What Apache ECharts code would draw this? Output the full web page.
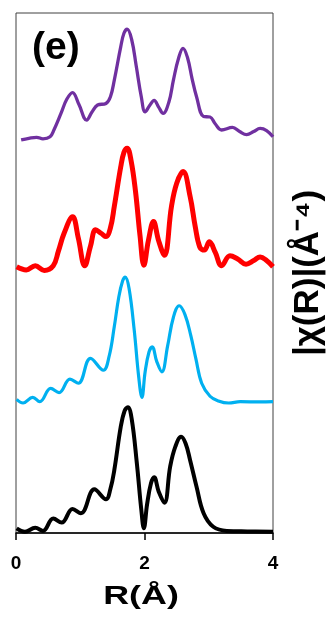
<!DOCTYPE html>
<html><head><meta charset="utf-8">
<script src="https://cdn.jsdelivr.net/npm/echarts@6/dist/echarts.min.js"></script>
<style>html,body{margin:0;padding:0;background:#fff}#c{width:327px;height:624px}</style>
</head><body><div id="c"></div>
<script>
// x tick values
const xTicks = [0, 2, 4];
// vertical offsets used to stack the spectra
const offsetBlack = 0, offsetBlue = 2.5, offsetRed = 5.02, offsetPurple = 7.54;

const blackR = [0.01,0.14,0.30,0.42,0.58,0.71,0.88,1.01,1.22,1.40,1.47,1.53,1.63,1.69,1.74,1.80,1.88,1.95,1.99,2.04,2.10,2.15,2.22,2.31,2.40,2.48,2.57,2.64,2.71,2.81,2.92,3.07,3.28,3.6,4.0];
const blackV = [0.09,0.025,0.10,0.04,0.28,0.20,0.46,0.38,0.84,0.65,0.85,1.21,2.04,2.35,2.42,2.2,1.35,0.45,0.09,0.55,0.95,1.07,0.8,0.58,1.28,1.66,1.85,1.72,1.40,0.89,0.38,0.12,0.04,0.03,0.025];

const blueR = [0.01,0.11,0.26,0.37,0.54,0.67,0.84,0.97,1.16,1.36,1.45,1.53,1.60,1.66,1.70,1.76,1.84,1.91,1.96,2.01,2.07,2.12,2.19,2.27,2.36,2.45,2.54,2.63,2.72,2.80,2.89,3.02,3.15,3.31,3.49,3.8,4.0];
const blueV = [0.07,0.0,0.11,0.025,0.28,0.20,0.46,0.38,0.86,0.63,0.9,1.47,2.04,2.35,2.42,2.2,1.4,0.5,0.11,0.6,0.98,1.08,0.8,0.6,1.1,1.65,1.87,1.7,1.3,0.85,0.38,0.13,0.04,0.0,0.025,0.02,0.025];

const redR = [0.01,0.16,0.30,0.44,0.58,0.66,0.75,0.88,0.97,1.07,1.16,1.24,1.33,1.40,1.47,1.53,1.63,1.68,1.73,1.79,1.86,1.93,1.99,2.06,2.14,2.22,2.31,2.42,2.50,2.60,2.71,2.79,2.86,2.93,3.01,3.10,3.20,3.33,3.45,3.58,3.70,3.80,3.90,4.0];
const redV = [0.10,0.04,0.12,0.03,0.12,0.40,0.75,1.06,0.65,0.12,0.5,0.81,0.74,0.68,0.85,1.26,2.02,2.30,2.38,2.15,1.55,0.7,0.13,0.6,0.97,0.6,0.32,1.26,1.70,1.93,1.45,0.87,0.48,0.42,0.58,0.38,0.12,0.31,0.25,0.15,0.22,0.29,0.22,0.10];

const purpleR = [0.08,0.2,0.32,0.42,0.53,0.59,0.70,0.79,0.88,0.98,1.10,1.18,1.27,1.40,1.47,1.53,1.63,1.68,1.73,1.80,1.87,1.95,2.01,2.08,2.15,2.22,2.29,2.38,2.45,2.53,2.60,2.67,2.74,2.81,2.92,3.02,3.10,3.20,3.37,3.48,3.59,3.70,3.80,3.90,4.0];
const purpleV = [0.02,0.05,0.07,0.04,0.08,0.21,0.53,0.80,0.93,0.70,0.40,0.55,0.69,0.72,0.85,1.17,1.81,2.07,2.15,1.95,1.45,0.85,0.56,0.68,0.78,0.65,0.53,0.75,1.17,1.59,1.78,1.6,1.2,0.85,0.47,0.46,0.33,0.21,0.26,0.18,0.12,0.18,0.24,0.2,0.08];

const xTitle = 'R(Å)';
const yTitle = '|χ(R)|(Å⁻⁴)';
const panelLabel = '(e)';

const FONT = 'Liberation Sans';
function pts(rs, vs, off) { return rs.map((r, i) => [r, vs[i] + off]); }
function line(name, rs, vs, off, color, w) {
  return { name, type: 'line', data: pts(rs, vs, off), smooth: 0.4, showSymbol: false,
    lineStyle: { color, width: w }, itemStyle: { color }, z: 3 };
}
const chart = echarts.init(document.getElementById('c'), null, { renderer: 'canvas' });
chart.setOption({
  animation: false,
  backgroundColor: '#fff',
  title: { text: panelLabel, left: 27, top: 24, textStyle: { fontFamily: FONT, fontWeight: 'bold', fontSize: 39, color: '#000' } },
  graphic: [{
    type: 'text', x: 141, y: 597, scaleX: 1.38, scaleY: 1, z: 10,
    style: { text: xTitle, fontFamily: FONT, fontWeight: 'bold', fontSize: 26, fill: '#000', textAlign: 'center', textVerticalAlign: 'middle' }
  }],
  grid: { left: 16, right: 54, top: 13, bottom: 91, show: true, borderColor: '#404040', borderWidth: 1, backgroundColor: 'transparent', outerBoundsMode: 'none', containLabel: false },
  xAxis: {
    type: 'value', min: xTicks[0], max: xTicks[xTicks.length - 1], interval: 2,
    axisLine: { show: true, lineStyle: { color: '#000', width: 1.5 } },
    axisTick: { show: true, inside: false, length: 7, lineStyle: { color: '#000', width: 1.5 } },
    axisLabel: { fontFamily: FONT, fontWeight: 'bold', fontSize: 19, color: '#000', margin: 21 },
    splitLine: { show: false }
  },
  yAxis: {
    type: 'value', min: 0, max: 10, position: 'right',
    name: yTitle, nameLocation: 'middle', nameRotate: 90, nameGap: 18,
    nameTextStyle: { fontFamily: FONT, fontWeight: 'bold', fontSize: 35, color: '#000' },
    axisLine: { show: false }, axisTick: { show: false }, axisLabel: { show: false }, splitLine: { show: false }
  },
  series: [
    line('black', blackR, blackV, offsetBlack, '#000000', 4),
    line('blue', blueR, blueV, offsetBlue, '#00B0F0', 3.2),
    line('red', redR, redV, offsetRed, '#FF0000', 5),
    line('purple', purpleR, purpleV, offsetPurple, '#7030A0', 3.3)
  ]
});
</script></body></html>
